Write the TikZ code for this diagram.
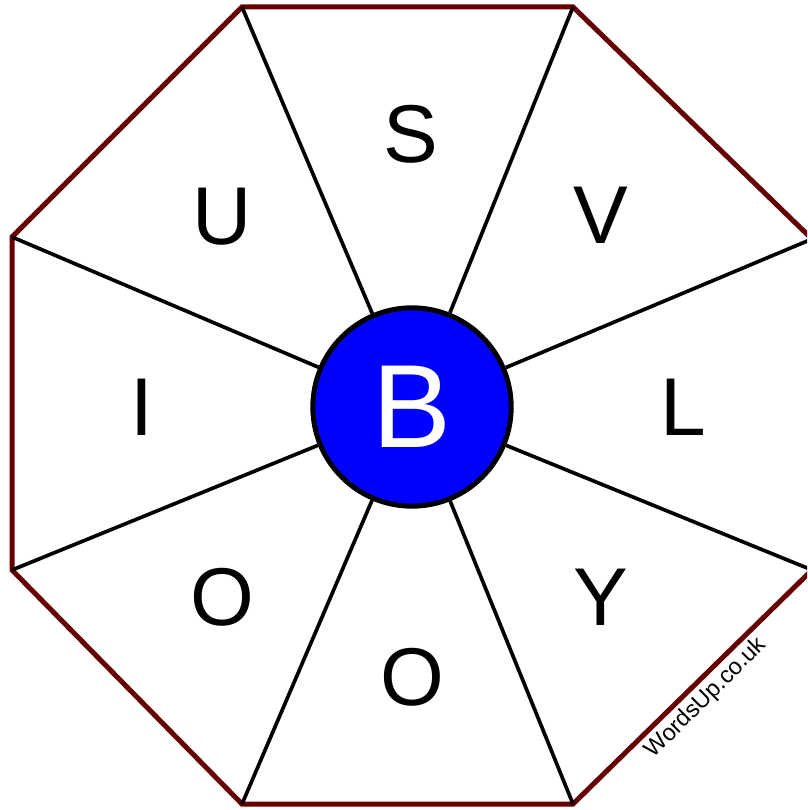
\documentclass[tikz,border=0pt]{standalone}
\usepackage{fontspec}
\setmainfont{Liberation Sans}
\usepackage{xcolor}
\definecolor{rimred}{RGB}{102,0,0}
\definecolor{hubblue}{RGB}{0,0,255}

\begin{document}
\begin{tikzpicture}[x=0.3mm,y=-0.3mm,
  rim/.style={rimred,line width=1.5mm,line join=miter},
  spoke/.style={black,line width=1.1mm},
  letter/.style={font=\fontsize{70}{70}\selectfont,inner sep=0pt}]
  \useasboundingbox (0,0) rectangle (807,810);
  \clip (0,0) rectangle (807,810);

  % octagon corners
  \coordinate (v1) at (242,7);
  \coordinate (v2) at (573,7);
  \coordinate (v3) at (812,239);
  \coordinate (v4) at (812,570);
  \coordinate (v5) at (573,804);
  \coordinate (v6) at (242,804);
  \coordinate (v7) at (12,570);
  \coordinate (v8) at (12,237);
  \draw[rim] (v1) -- (v2) -- (v3) -- (v4) -- (v5) -- (v6) -- (v7) -- (v8) -- cycle;

  % centre letter
  \node[circle,draw,line width=1.5mm,fill=hubblue,minimum size=59.5mm,inner sep=0pt,
        text=white,font=\fontsize{101}{101}\selectfont] (hub) at (412,407) {B};

  % spokes from the corners to the centre
  \draw[spoke] (v1) -- (hub);
  \draw[spoke] (v2) -- (hub);
  \draw[spoke] (v3) -- (hub);
  \draw[spoke] (v4) -- (hub);
  \draw[spoke] (v5) -- (hub);
  \draw[spoke] (v6) -- (hub);
  \draw[spoke] (v7) -- (hub);
  \draw[spoke] (v8) -- (hub);

  % outer letters, clockwise from the top
  \node[letter] (s) at (411,134) {S};
  \node[letter] (v) at (601,215) {V};
  \node[letter] (l) at (683,407) {L};
  \node[letter] (y) at (601,597) {Y};
  \node[letter] (o1) at (412,677) {O};
  \node[letter] (o2) at (222,597) {O};
  \node[letter] (i) at (142,407) {I};
  \node[letter] (u) at (222,217) {U};

  % site name along the lower right edge
  \node[rotate=45,inner sep=0pt,font=\fontsize{20}{20}\selectfont] (site) at (706,698) {WordsUp.co.uk};
\end{tikzpicture}
\end{document}
